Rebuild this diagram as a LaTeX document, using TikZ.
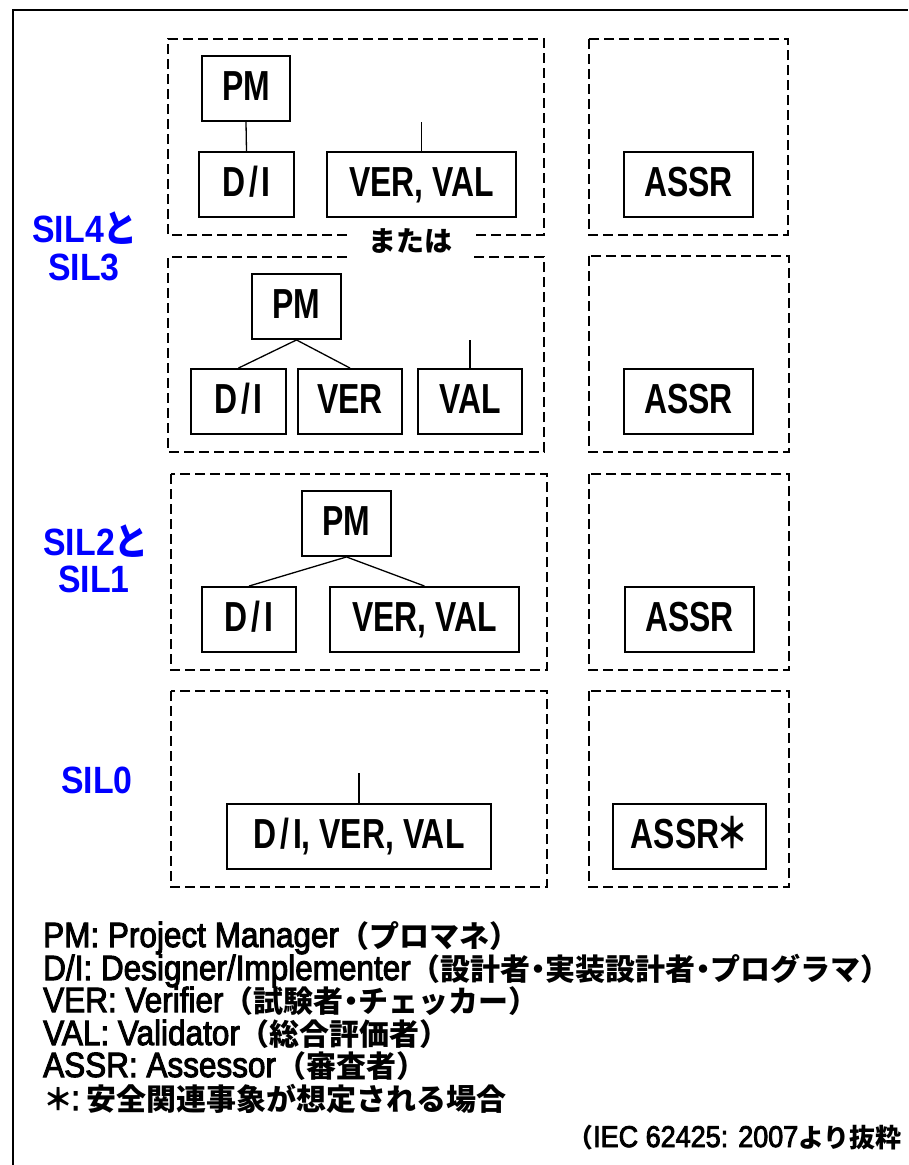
\documentclass[tikz,border=0pt]{standalone}
\usepackage{fontspec}
\usepackage{graphicx}
\setmainfont{Liberation Sans}
\newfontfamily\latm{Liberation Sans}[FakeBold=3]
\newfontfamily\jp{Noto Sans CJK JP}
\definecolor{silblue}{RGB}{0,0,255}
\newcommand\rolefont{\fontsize{42}{44}\selectfont\bfseries}
\newcommand\silfont{\fontsize{38}{40}\selectfont\bfseries}
\newcommand\legfont{\latm\fontsize{35}{36}\selectfont}
\newcommand\jpl{\jp\bfseries\fontsize{30}{32}\selectfont}
\newcommand\jpc{\jp\bfseries\fontsize{26}{28}\selectfont}
\newcommand\rl[1]{\scalebox{0.76}[1]{#1}}
\newcommand\lat[1]{\scalebox{0.9}[1]{#1}}
\newcommand\silt[1]{\scalebox{0.89}[1]{#1}}
\newcommand\nd{\makebox[15pt]{・}}
\begin{document}
\begin{tikzpicture}[x=1pt,y=-1pt,
  role/.style={draw, line width=1.9pt, inner sep=0pt, minimum height=65pt,
    text height=30pt, text depth=7pt, font=\rolefont},
  grp/.style={draw, line width=1.5pt, dash pattern=on 10pt off 5pt},
  link/.style={line width=1.3pt},
  outer/.style={line width=2pt},
  sil/.style={anchor=base, inner sep=0pt, text=silblue, font=\silfont},
  legend/.style={anchor=base west, inner sep=0pt, font=\legfont}]
\useasboundingbox (0,0) rectangle (908,1165);
\draw[outer] (13,1165) -- (13,10) -- (908,10);

% dashed group frames
\draw[grp] (347,235) -| (168,39) -| (544,235) -- (476,235);
\draw[grp] (347,257) -| (168,452) -| (544,257) -- (472,257);
\draw[grp] (589,39) rectangle (788,235);
\draw[grp] (589,256) rectangle (789,452);
\draw[grp] (171,474) rectangle (547,670);
\draw[grp] (589,474) rectangle (789,670);
\draw[grp] (171,691) rectangle (547,887);
\draw[grp] (589,691) rectangle (789,887);

\node[anchor=base, inner sep=0pt, font=\jp\bfseries\fontsize{28}{30}\selectfont] (or) at (410,251) {または};

% SIL labels
\node[sil] (sil4) at (85,242) {\silt{SIL4{\jp と}}};
\node[sil] (sil3) at (84,280) {\silt{SIL3}};
\node[sil] (sil2) at (96,555) {\silt{SIL2{\jp と}}};
\node[sil] (sil1) at (94,592) {\silt{SIL1}};
\node[sil] (sil0) at (97,793) {\silt{SIL0}};

% row 1
\node[role, minimum width=88pt] (pm1) at (246,88.5) {\rl{PM}};
\node[role, minimum width=95pt] (di1) at (246.5,184.5) {\rl{D\kern5pt/\kern5pt I}};
\node[role, minimum width=189pt] (vv1) at (421.5,184.5) {\rl{VER, VAL}};
\node[role, minimum width=129pt] (assr1) at (688.5,184.5) {\rl{ASSR}};
\draw[link] (pm1.south) -- (di1.north);
\coordinate (vv1t) at (vv1.north |- pm1.south);
\draw[link] (vv1.north) -- (vv1t);

% row 2
\node[role, minimum width=89pt] (pm2) at (296.5,306.5) {\rl{PM}};
\node[role, minimum width=95pt] (di2) at (238.5,401.5) {\rl{D\kern5pt/\kern5pt I}};
\node[role, minimum width=104pt] (ver2) at (350,401.5) {\rl{VER}};
\node[role, minimum width=104pt] (val2) at (470,401.5) {\rl{VAL}};
\node[role, minimum width=129pt] (assr2) at (688.5,401.5) {\rl{ASSR}};
\draw[link] (pm2.south) -- (di2.north);
\draw[link] (pm2.south) -- (ver2.north);
\coordinate (val2t) at (val2.north |- pm2.south);
\draw[link] (val2.north) -- (val2t);

% row 3
\node[role, minimum width=89pt] (pm3) at (346.5,523.5) {\rl{PM}};
\node[role, minimum width=94pt] (di3) at (249,619.5) {\rl{D\kern5pt/\kern5pt I}};
\node[role, minimum width=189pt] (vv3) at (424.5,619.5) {\rl{VER, VAL}};
\node[role, minimum width=129pt] (assr3) at (689.5,619.5) {\rl{ASSR}};
\draw[link] (pm3.south) -- (di3.north);
\draw[link] (pm3.south) -- (vv3.north);

% row 4
\node[role, minimum width=264pt] (dvv4) at (359,836.5) {\rl{D\kern5pt/\kern5pt I, VER, VAL}};
\node[role, minimum width=153pt] (assr4) at (689.5,836.5) {\rl{ASSR{\jp\kern-4pt＊}}};
\coordinate (dvv4t) at (359,773);
\draw[link] (dvv4.north) -- (dvv4t);

% legend
\node[legend] (l1) at (43,947) {\lat{PM: Project Manager}{\jpl （プロマネ）}};
\node[legend] (l2) at (43,980) {\lat{D/I: Designer/Implementer}{\jpl （設計者\nd 実装設計者\nd プログラマ）}};
\node[legend] (l3) at (43,1012) {\lat{VER: Verifier}{\jpl （試験者\nd チェッカー）}};
\node[legend] (l4) at (43,1045) {\lat{VAL: Validator}{\jpl （総合評価者）}};
\node[legend] (l5) at (43,1077) {\lat{ASSR: Assessor}{\jpl （審査者）}};
\node[legend] (l6) at (43,1110) {{\jpl ＊}\kern-2pt\lat{:}\kern7pt{\jpl 安全関連事象が想定される場合}};

\node[anchor=base east, inner sep=0pt, font=\latm\fontsize{30}{31}\selectfont] (src) at (902,1147)
  {{\jpc （}\lat{IEC 62425: 2007}{\jpc より抜粋}};
\end{tikzpicture}
\end{document}
